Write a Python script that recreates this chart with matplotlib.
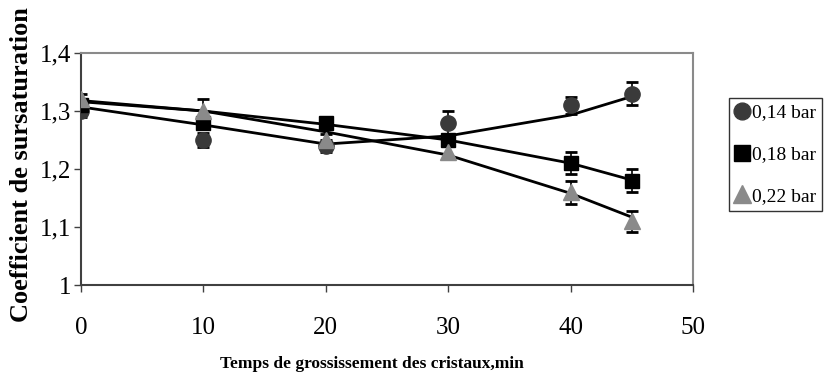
import numpy as np
import matplotlib.pyplot as plt
from matplotlib.ticker import FuncFormatter

# Growth time (min)
temps = [0, 10, 20, 30, 40, 45]

# Measured supersaturation coefficient per pressure
s_014 = [1.30, 1.25, 1.24, 1.28, 1.31, 1.33]
s_018 = [1.31, 1.28, 1.28, 1.25, 1.21, 1.18]
s_022 = [1.32, 1.30, 1.25, 1.23, 1.16, 1.11]

# Error bars
err_014 = [0.01, 0.012, 0.01, 0.02, 0.015, 0.02]
err_018 = [0.01, 0.01, 0.01, 0.01, 0.019, 0.02]
err_022 = [0.01, 0.02, 0.01, 0.01, 0.02, 0.018]

# Trend line values
trend_014 = [1.307, 1.276, 1.243, 1.257, 1.293, 1.325]
trend_018 = [1.316, 1.300, 1.277, 1.250, 1.210, 1.181]
trend_022 = [1.318, 1.300, 1.264, 1.224, 1.158, 1.117]

labels = ["0,14 bar", "0,18 bar", "0,22 bar"]

plt.rcParams['font.family'] = ['Liberation Serif', 'DejaVu Serif']

fig = plt.figure(figsize=(8.24, 3.83), dpi=100)
ax = fig.add_axes([81/824, 1-285/383, 612/824, 232/383])

series = [
    (s_014, err_014, trend_014, 'o', '#3a3a3a', 11),
    (s_018, err_018, trend_018, 's', '#000000', 10.5),
    (s_022, err_022, trend_022, '^', '#8a8a8a', 12),
]

handles = []
for (vals, err, trend, mk, col, ms), lab in zip(series, labels):
    ax.errorbar(temps, vals, yerr=err, fmt='none', ecolor='black',
                elinewidth=1.2, capsize=4.5, capthick=2, zorder=2)
    ax.plot(temps, trend, color='black', lw=2, zorder=3)
    h, = ax.plot(temps, vals, linestyle='none', marker=mk, markersize=ms,
                 color=col, markeredgecolor=col, zorder=4, label=lab)
    handles.append(h)

ax.set_xlim(0, 50)
ax.set_ylim(1.0, 1.4)
ax.set_xticks([0, 10, 20, 30, 40, 50])
ax.set_yticks([1.0, 1.1, 1.2, 1.3, 1.4])
ax.yaxis.set_major_formatter(FuncFormatter(
    lambda v, p: "1" if abs(v - 1) < 1e-9 else f"{v:.1f}".replace('.', ',')))

ax.tick_params(axis='both', labelsize=18, direction='out', length=5,
               width=1, color='#404040')
ax.tick_params(axis='x', pad=18)
ax.tick_params(axis='y', pad=2)

ax.spines['left'].set_color('#404040')
ax.spines['bottom'].set_color('#404040')
ax.spines['top'].set_color('#8a8a8a')
ax.spines['right'].set_color('#8a8a8a')
for s in ax.spines.values():
    s.set_linewidth(1.5)

fig.text(22/824, 1-165/383, "Coefficient de sursaturation", rotation=90,
         ha='center', va='center', fontsize=19, fontweight='bold')
fig.text(372/824, 1-364/383, "Temps de grossissement des cristaux,min",
         ha='center', va='center', fontsize=12.5, fontweight='bold')

leg = fig.legend(handles=handles, labels=labels, loc='upper left',
                 bbox_to_anchor=(729/824, 1-98/383), frameon=True,
                 fancybox=False, edgecolor='black', fontsize=14,
                 handlelength=0.75, handletextpad=0.15, borderpad=0.3,
                 labelspacing=1.25, borderaxespad=0, markerscale=1.1)
leg.get_frame().set_linewidth(1)

fig.savefig("out.png", dpi=100)
